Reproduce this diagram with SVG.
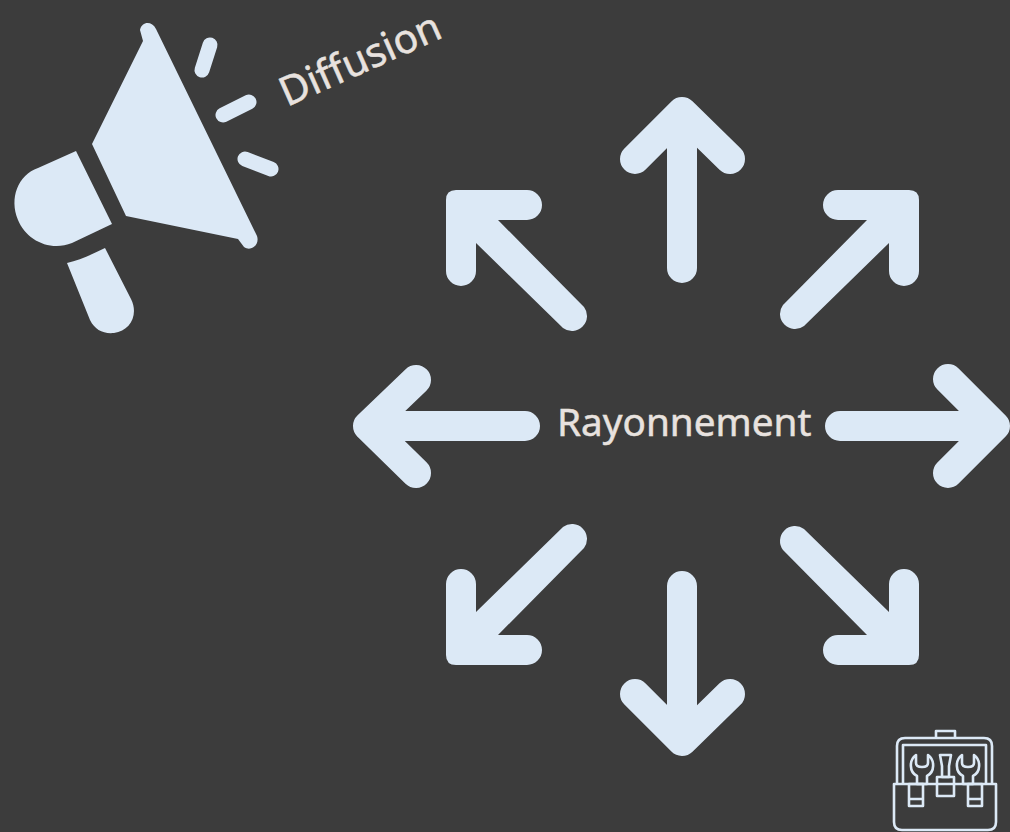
<svg xmlns="http://www.w3.org/2000/svg" width="1010" height="832" viewBox="0 0 1010 832">
<defs>
<path id="diag" d="M838 190H909Q919 190 919 200V271A15 15 0 0 1 889 271V243L804 326A15 15 0 0 1 783 305L867 220H838A15 15 0 0 1 838 190Z"/>
<path id="diagl" d="M527 190H456Q446 190 446 200V271A15 15 0 0 0 476 271V243L563 328A15 15 0 0 0 584 307L498 220H527A15 15 0 0 0 527 190Z"/>
</defs>
<style>
.arrow{fill:none;stroke:#dce9f6;stroke-width:30;stroke-linecap:round;stroke-linejoin:round}
.fillarrow{fill:#dce9f6}
.mega{fill:#dce9f6}
.tick{fill:none;stroke:#dce9f6;stroke-width:15;stroke-linecap:round}
.tool{fill:none;stroke:#dce9f6;stroke-width:2.6;stroke-linejoin:round}
.label{font-family:"Noto Sans","Open Sans",sans-serif;fill:#e8e2df;stroke:#e8e2df;stroke-width:.5}
</style>
<rect width="1010" height="832" fill="#3c3c3c"/>
<g id="megaphone">
<path class="mega" d="M140 30C142 21 152 21 156 29L257 236C260 245 251 252 244 247L238 239L126 216L92 144L143 41Z"/>
<path class="mega" d="M76 151L112 224L72 243C50 252 26 240 18 220C9 198 18 175 38 168Z"/>
<path class="mega" d="M67 263C80 260 93 254 105 248L131 299C139 315 130 331 114 333C103 334 95 330 90 320Z"/>
<path class="tick" d="M210 45L202 70"/>
<path class="tick" d="M249 102L223 115"/>
<path class="tick" d="M245 159L271 169"/>
</g>
<g id="diffusion"><text class="label" font-size="40.5" transform="translate(287 107) rotate(-24)">Diffusion</text></g>
<g id="rayonnement"><text class="label" font-size="38.7" x="557" y="436">Rayonnement</text></g>
<g id="connectors">
<path class="arrow" d="M682 268V113M635 159L682 112L730 159"/>
<use href="#diag" class="fillarrow"/>
<path class="arrow" d="M840 426H990M948 379L995 426L948 473"/>
<use href="#diag" class="fillarrow" transform="matrix(1 0 0 -1 0 855)"/>
<path class="arrow" d="M682 586V740M635 694L682 741L730 694"/>
<use href="#diagl" class="fillarrow" transform="matrix(1 0 0 -1 0 855)"/>
<path class="arrow" d="M525 426H375M416 380L368 426L416 473"/>
<use href="#diagl" class="fillarrow"/>
</g>
<g id="toolbox">
<path class="tool" d="M897 783V746Q897 738 905 738H984Q992 738 992 746V783"/>
<path class="tool" d="M903 783V745H986V783"/>
<path class="tool" d="M936 738V731H955V738"/>
<path class="tool" d="M894 784H996V822Q996 830 988 830H902Q894 830 894 822Z"/>
<path class="tool" d="M916 755V763Q916 767 922 767Q928 767 928 763V755C935 760 935 772 927 776V784H917V776C909 772 909 760 916 755Z"/>
<path class="tool" d="M962 755V763Q962 767 968 767Q974 767 974 763V755C981 760 981 772 973 776V784H963V776C955 772 955 760 962 755Z"/>
<path class="tool" d="M940 755H951L949 766V777H942V766Z"/>
<path class="tool" d="M937 777H954V796H937Z"/>
<path class="tool" d="M909 784H923V806H909ZM909 799H923"/>
<path class="tool" d="M968 784H982V806H968ZM968 799H982"/>
</g>
</svg>
